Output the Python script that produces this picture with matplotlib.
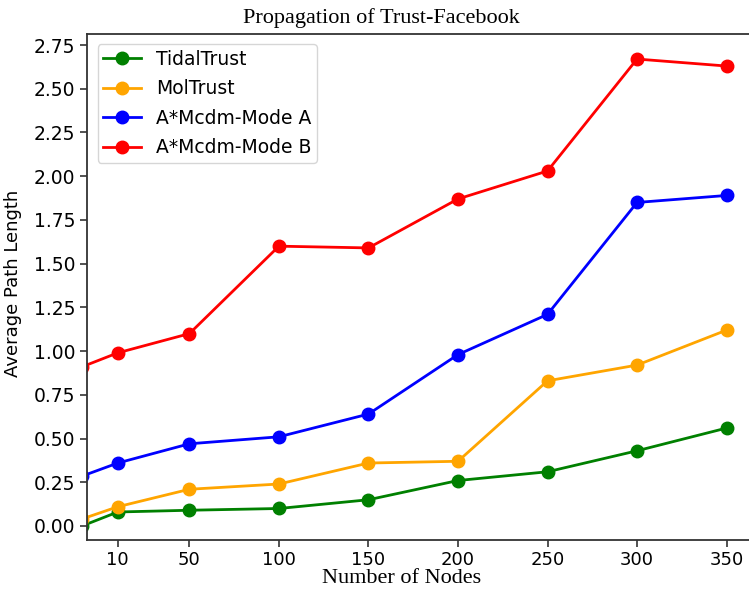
import matplotlib
matplotlib.use("Agg")
import matplotlib.pyplot as plt

# Number of nodes (a leading point at -10 lets the curves run in from the left edge)
nodes = [-10, 10, 50, 100, 150, 200, 250, 300, 350]
tidal_trust = [0.00, 0.08, 0.09, 0.10, 0.15, 0.26, 0.31, 0.43, 0.56]
mol_trust = [0.04, 0.11, 0.21, 0.24, 0.36, 0.37, 0.83, 0.92, 1.12]
mcdm_mode_a = [0.285, 0.36, 0.47, 0.51, 0.64, 0.98, 1.21, 1.85, 1.89]
mcdm_mode_b = [0.91, 0.99, 1.10, 1.60, 1.59, 1.87, 2.03, 2.67, 2.63]

series_names = ["TidalTrust", "MolTrust", "A*Mcdm-Mode A", "A*Mcdm-Mode B"]
series_colors = ["green", "orange", "blue", "red"]
x_ticks = [10, 50, 100, 150, 200, 250, 300, 350]
y_ticks = [0.00, 0.25, 0.50, 0.75, 1.00, 1.25, 1.50, 1.75, 2.00, 2.25, 2.50, 2.75]

fig = plt.figure(figsize=(7.49, 5.90), dpi=100)
ax = fig.add_axes([0.1166, 0.0839, 0.8941, 0.8590])

for values, name, color in zip([tidal_trust, mol_trust, mcdm_mode_a, mcdm_mode_b],
                               series_names, series_colors):
    ax.plot(nodes, values, color=color, marker="o", markersize=9,
            linewidth=2, label=name)

ax.set_xlim(-7, 367)
ax.set_ylim(-0.083, 2.815)
ax.set_xticks(x_ticks)
ax.set_xticklabels([str(t) for t in x_ticks])
ax.set_yticks(y_ticks)
ax.set_yticklabels([f"{t:.2f}" for t in y_ticks])
ax.tick_params(labelsize=13, length=5, width=1.2, colors="#333333",
               labelcolor="black")
ax.tick_params(axis="x", pad=2.5)
ax.tick_params(axis="y", labelsize=13.5)
for spine in ax.spines.values():
    spine.set_color("#333333")
    spine.set_linewidth(1.3)

leg = ax.legend(loc="upper left", fontsize=13.5, borderaxespad=0.55,
                handlelength=2.0, labelspacing=0.56, borderpad=0.3)
leg.get_frame().set_edgecolor("#cccccc")

fig.text(0.5087, 0.961, "Propagation of Trust-Facebook", ha="center",
         va="baseline", fontsize=16, family="Liberation Serif")
fig.text(0.5367, 0.012, "Number of Nodes", ha="center", va="baseline",
         fontsize=16, family="Liberation Serif")
fig.text(0.018, 0.52, "Average Path Length", ha="center", va="center",
         rotation=90, fontsize=13)

fig.savefig("out.png", dpi=100)
